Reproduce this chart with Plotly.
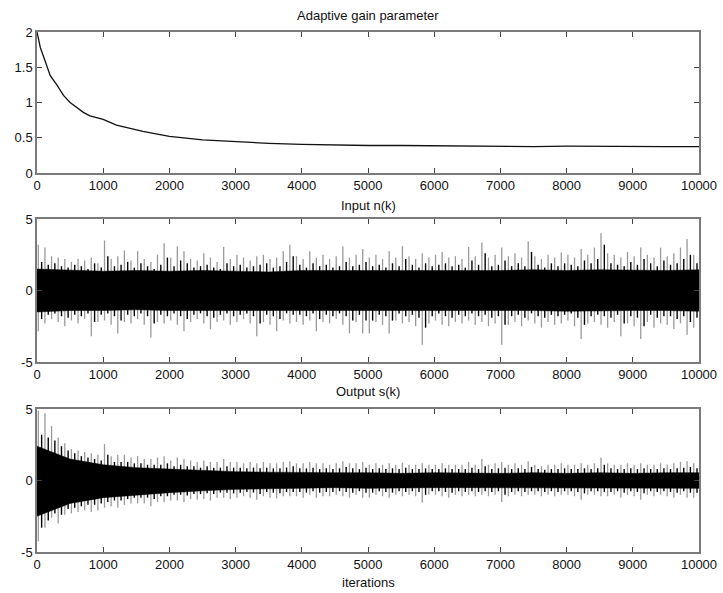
import plotly.graph_objects as go

# ---------------- data ----------------
gain_k = [0, 50, 100, 200, 300, 400, 500, 600, 700, 800, 900, 1000, 1200, 1400, 1600, 1800,
          2000, 2500, 3000, 3500, 4000, 4500, 5000, 5500, 6000, 6500, 7000, 7500, 8000, 8500,
          9000, 9500, 10000]
gain_val = [2.0, 1.78, 1.65, 1.38, 1.25, 1.1, 1.0, 0.93, 0.86, 0.81, 0.79, 0.76, 0.68, 0.63,
            0.59, 0.555, 0.52, 0.47, 0.44, 0.42, 0.405, 0.395, 0.39, 0.39, 0.385, 0.39, 0.385,
            0.375, 0.38, 0.375, 0.375, 0.375, 0.375]

# bins of 100 iterations (bin start)
bin_k = list(range(0, 10000, 100))

# Input n(k): extreme (grey) and black excursions per 100-iteration bin
input_hi = [3.2, 3.0, 2.4, 2.3, 2.2, 2.0, 2.2, 2.1, 2.3, 1.9,
            3.5, 2.2, 2.4, 2.8, 2.1, 2.75, 2.2, 2.0, 2.5, 3.3,
            2.3, 3.1, 2.75, 2.2, 2.1, 2.6, 2.3, 2.0, 3.05, 2.2,
            2.5, 2.3, 2.1, 2.4, 2.5, 2.2, 2.3, 2.75, 3.2, 2.4,
            2.2, 2.75, 2.3, 2.5, 2.2, 2.4, 3.1, 2.3, 2.5, 2.9,
            2.3, 2.5, 2.2, 2.75, 2.3, 3.1, 2.4, 2.2, 2.6, 2.3,
            2.5, 2.7, 2.3, 2.4, 2.2, 3.05, 2.4, 3.35, 2.3, 2.5,
            3.0, 2.4, 2.6, 2.3, 3.45, 2.4, 2.2, 2.5, 2.3, 2.65,
            2.5, 2.3, 2.9, 2.5, 3.0, 4.0, 2.6, 2.5, 2.3, 2.7,
            2.4, 3.0, 2.5, 2.3, 3.0, 2.4, 2.6, 3.0, 3.6, 2.5]
input_lo = [-2.85, -2.3, -2.0, -2.2, -2.5, -2.1, -2.3, -2.0, -3.2, -2.2,
            -2.1, -2.4, -3.0, -2.2, -2.3, -2.0, -2.4, -3.3, -2.2, -2.3,
            -2.1, -2.4, -2.85, -2.2, -2.0, -2.3, -2.7, -2.2, -2.1, -2.4,
            -2.2, -2.0, -2.3, -3.2, -2.2, -2.4, -2.85, -2.1, -2.3, -2.2,
            -2.4, -2.1, -2.85, -2.2, -2.3, -2.0, -2.4, -3.0, -2.2, -3.0,
            -3.0, -2.2, -2.4, -3.0, -2.1, -2.3, -2.2, -2.5, -3.8, -2.3,
            -2.1, -2.4, -2.5, -2.2, -2.3, -2.1, -2.4, -2.2, -2.5, -2.3,
            -3.8, -2.4, -2.2, -2.5, -2.1, -2.3, -2.6, -2.2, -2.4, -2.3,
            -2.1, -2.5, -3.4, -2.3, -2.2, -2.4, -2.6, -2.2, -3.2, -2.3,
            -2.5, -3.4, -2.2, -2.6, -2.3, -2.4, -2.7, -2.3, -3.1, -2.6]
input_core_hi = [2.0, 1.8, 1.9, 1.7, 1.6, 1.8, 1.7, 1.5, 1.9, 1.6,
                 2.4, 1.7, 1.8, 2.0, 1.6, 1.9, 1.7, 1.5, 1.8, 2.3,
                 1.7, 2.1, 1.9, 1.6, 1.7, 1.8, 1.6, 1.5, 1.9, 1.7,
                 1.8, 1.6, 1.7, 1.8, 1.9, 1.6, 1.7, 2.0, 2.4, 1.8,
                 1.6, 1.9, 1.7, 1.8, 1.6, 1.7, 2.0, 1.7, 1.8, 2.0,
                 1.7, 1.8, 1.6, 1.9, 1.7, 2.2, 1.8, 1.6, 1.9, 1.7,
                 1.8, 1.9, 1.7, 1.8, 1.6, 2.1, 1.8, 2.6, 1.7, 1.8,
                 2.1, 1.7, 1.9, 1.7, 2.7, 1.8, 1.6, 1.9, 1.7, 1.9,
                 1.8, 1.7, 2.1, 1.9, 2.2, 3.2, 1.9, 1.8, 1.7, 2.0,
                 1.8, 2.2, 1.9, 1.7, 2.1, 1.8, 1.9, 2.2, 2.5, 1.9]
input_core_lo = [-2.0, -1.7, -1.6, -1.8, -1.9, -1.7, -1.8, -1.6, -2.2, -1.7,
                 -1.6, -1.8, -2.1, -1.7, -1.8, -1.6, -1.8, -2.3, -1.7, -1.8,
                 -1.6, -1.8, -2.0, -1.7, -1.6, -1.8, -1.9, -1.7, -1.6, -1.8,
                 -1.7, -1.6, -1.8, -2.3, -1.7, -1.8, -2.0, -1.6, -1.7, -1.7,
                 -1.8, -1.6, -2.0, -1.7, -1.8, -1.6, -1.8, -2.1, -1.7, -2.1,
                 -2.1, -1.7, -1.8, -2.1, -1.6, -1.8, -1.7, -1.9, -2.6, -1.8,
                 -1.6, -1.8, -1.9, -1.7, -1.8, -1.6, -1.8, -1.7, -1.9, -1.8,
                 -2.4, -1.8, -1.7, -1.9, -1.6, -1.8, -1.9, -1.7, -1.8, -1.7,
                 -1.6, -1.9, -2.4, -1.8, -1.7, -1.8, -1.9, -1.7, -2.3, -1.8,
                 -1.9, -2.5, -1.7, -1.9, -1.8, -1.8, -2.0, -1.8, -2.2, -1.9]

# solid (fully black) part of the band, read every 500 iterations
solid_k = list(range(0, 10001, 500))
input_solid_hi = [1.5, 1.4, 1.35, 1.4, 1.35, 1.4, 1.35, 1.3, 1.4, 1.4, 1.35,
                  1.4, 1.4, 1.35, 1.4, 1.45, 1.4, 1.45, 1.4, 1.4, 1.45]
input_solid_lo = [-1.5, -1.4, -1.4, -1.35, -1.4, -1.4, -1.35, -1.4, -1.4, -1.35, -1.4,
                  -1.4, -1.4, -1.35, -1.4, -1.4, -1.45, -1.4, -1.4, -1.4, -1.45]

# Output s(k)
output_hi = [4.9, 4.7, 3.8, 3.0, 2.6, 2.2, 2.1, 2.0, 1.9, 1.8,
             2.55, 1.7, 1.8, 1.8, 1.6, 1.7, 1.5, 1.5, 1.6, 1.7,
             1.4, 1.6, 1.5, 1.4, 1.3, 1.4, 1.3, 1.3, 1.5, 1.3,
             1.3, 1.2, 1.3, 1.2, 1.3, 1.2, 1.2, 1.3, 1.35, 1.2,
             1.2, 1.3, 1.2, 1.2, 1.1, 1.2, 1.35, 1.2, 1.2, 1.3,
             1.1, 1.2, 1.1, 1.2, 1.1, 1.25, 1.1, 1.1, 1.2, 1.1,
             1.1, 1.2, 1.1, 1.1, 1.1, 1.3, 1.1, 1.5, 1.1, 1.2,
             1.3, 1.1, 1.2, 1.1, 1.35, 1.1, 1.0, 1.1, 1.1, 1.2,
             1.1, 1.1, 1.2, 1.1, 1.2, 1.6, 1.2, 1.1, 1.1, 1.2,
             1.1, 1.2, 1.1, 1.1, 1.2, 1.1, 1.2, 1.3, 1.35, 1.2]
output_lo = [-4.25, -3.3, -2.6, -3.0, -2.4, -2.3, -2.2, -2.1, -2.2, -2.1,
             -1.9, -1.8, -1.9, -1.7, -1.6, -1.6, -1.6, -1.8, -1.5, -1.5,
             -1.4, -1.4, -1.5, -1.3, -1.35, -1.3, -1.4, -1.2, -1.2, -1.3,
             -1.2, -1.1, -1.2, -1.35, -1.1, -1.2, -1.25, -1.1, -1.1, -1.1,
             -1.2, -1.0, -1.2, -1.1, -1.1, -1.0, -1.1, -1.2, -1.0, -1.2,
             -1.2, -1.0, -1.1, -1.2, -1.0, -1.1, -1.0, -1.1, -1.55, -1.0,
             -1.0, -1.1, -1.2, -1.0, -1.1, -1.0, -1.1, -1.0, -1.1, -1.0,
             -1.5, -1.1, -1.0, -1.1, -1.0, -1.0, -1.1, -1.0, -1.1, -1.0,
             -1.0, -1.1, -1.35, -1.0, -1.0, -1.1, -1.1, -1.0, -1.2, -1.0,
             -1.1, -1.35, -1.0, -1.1, -1.0, -1.1, -1.2, -1.0, -1.2, -1.2]
output_core_hi = [3.2, 3.0, 2.8, 2.4, 2.1, 1.9, 1.7, 1.6, 1.5, 1.4,
                  1.8, 1.3, 1.3, 1.3, 1.2, 1.2, 1.1, 1.1, 1.1, 1.2,
                  1.0, 1.1, 1.0, 1.0, 0.9, 1.0, 0.9, 0.9, 1.0, 0.9,
                  0.9, 0.85, 0.9, 0.85, 0.9, 0.85, 0.85, 0.9, 1.0, 0.85,
                  0.85, 0.9, 0.8, 0.85, 0.8, 0.85, 0.95, 0.85, 0.8, 0.9,
                  0.8, 0.85, 0.8, 0.85, 0.8, 0.9, 0.8, 0.8, 0.85, 0.8,
                  0.8, 0.85, 0.8, 0.8, 0.8, 0.9, 0.8, 1.0, 0.8, 0.85,
                  0.9, 0.8, 0.85, 0.8, 0.95, 0.8, 0.75, 0.8, 0.8, 0.85,
                  0.8, 0.8, 0.85, 0.8, 0.85, 1.1, 0.85, 0.8, 0.8, 0.85,
                  0.8, 0.85, 0.8, 0.8, 0.85, 0.8, 0.85, 0.9, 0.95, 0.85]
output_core_lo = [-3.3, -2.8, -2.3, -2.4, -2.0, -1.9, -1.8, -1.7, -1.7, -1.6,
                  -1.5, -1.4, -1.4, -1.3, -1.2, -1.2, -1.2, -1.3, -1.1, -1.1,
                  -1.0, -1.0, -1.05, -0.95, -0.95, -0.9, -0.95, -0.85, -0.85, -0.9,
                  -0.85, -0.8, -0.85, -0.95, -0.8, -0.85, -0.9, -0.8, -0.8, -0.8,
                  -0.85, -0.75, -0.85, -0.8, -0.8, -0.75, -0.8, -0.85, -0.75, -0.85,
                  -0.85, -0.75, -0.8, -0.85, -0.75, -0.8, -0.75, -0.8, -1.0, -0.75,
                  -0.75, -0.8, -0.85, -0.75, -0.8, -0.75, -0.8, -0.75, -0.8, -0.75,
                  -1.0, -0.8, -0.75, -0.8, -0.75, -0.75, -0.8, -0.75, -0.8, -0.75,
                  -0.75, -0.8, -0.9, -0.75, -0.75, -0.8, -0.8, -0.75, -0.85, -0.75,
                  -0.8, -0.9, -0.75, -0.8, -0.75, -0.8, -0.85, -0.75, -0.85, -0.85]
output_solid_hi = [2.4, 1.5, 1.1, 0.9, 0.8, 0.7, 0.62, 0.58, 0.55, 0.55, 0.55,
                   0.5, 0.55, 0.5, 0.5, 0.55, 0.5, 0.55, 0.5, 0.55, 0.55]
output_solid_lo = [-2.5, -1.6, -1.2, -1.0, -0.85, -0.72, -0.62, -0.58, -0.55, -0.5, -0.55,
                   -0.5, -0.5, -0.5, -0.5, -0.5, -0.5, -0.5, -0.5, -0.5, -0.55]

x_ticks = list(range(0, 10001, 1000))
x_tick_text = [str(v) for v in x_ticks]
gain_ticks = [0, 0.5, 1, 1.5, 2]
gain_tick_text = ["0", "0.5", "1", "1.5", "2"]
signal_ticks = [-5, 0, 5]
signal_tick_text = ["-5", "0", "5"]

# ---------------- figure ----------------
W, H = 723, 593
FONT = "Liberation Sans, Arial, Helvetica, sans-serif"
GREY = "#9a9a9a"
AXIS = "#7a7a7a"


def spikes(ks, hi, lo, off):
    xs, ys = [], []
    for k, a, b in zip(ks, hi, lo):
        xs += [k + off, k + off, None]
        ys += [b, a, None]
    return xs, ys


fig = go.Figure()

fig.add_trace(go.Scatter(x=gain_k, y=gain_val, mode="lines",
                         line=dict(color="#111111", width=1.3),
                         xaxis="x", yaxis="y", showlegend=False))

for (hi, lo, chi, clo, shi, slo, xa, ya) in [
    (input_hi, input_lo, input_core_hi, input_core_lo, input_solid_hi, input_solid_lo,
     "x2", "y2"),
    (output_hi, output_lo, output_core_hi, output_core_lo, output_solid_hi, output_solid_lo,
     "x3", "y3"),
]:
    # grey extreme excursions (vertical spikes)
    gx, gy = spikes(bin_k, hi, lo, 20)
    fig.add_trace(go.Scatter(x=gx, y=gy, mode="lines",
                             line=dict(color=GREY, width=1.3),
                             xaxis=xa, yaxis=ya, showlegend=False))
    # solid black band
    fig.add_trace(go.Scatter(x=solid_k, y=slo, mode="lines",
                             line=dict(color="#000000", width=0.5),
                             xaxis=xa, yaxis=ya, showlegend=False))
    fig.add_trace(go.Scatter(x=solid_k, y=shi, mode="lines",
                             line=dict(color="#000000", width=0.5),
                             fill="tonexty", fillcolor="#000000",
                             xaxis=xa, yaxis=ya, showlegend=False))
    # black excursions (vertical spikes)
    bx, by = spikes(bin_k, chi, clo, 70)
    fig.add_trace(go.Scatter(x=bx, y=by, mode="lines",
                             line=dict(color="#000000", width=1.4),
                             xaxis=xa, yaxis=ya, showlegend=False))

xd = [37 / W, 699 / W]


def ydom(top_px, bot_px):
    return [(H - bot_px) / H, (H - top_px) / H]


common_axis = dict(showline=True, linecolor=AXIS, linewidth=1.5, mirror="ticks",
                   ticks="inside", ticklen=5, tickcolor="#444444", tickwidth=1,
                   showgrid=False, zeroline=False, automargin=False,
                   tickfont=dict(family=FONT, size=13, color="#111111"))

fig.update_layout(
    width=W, height=H,
    margin=dict(l=0, r=0, t=0, b=0, autoexpand=False),
    paper_bgcolor="white", plot_bgcolor="white",
    showlegend=False,
    font=dict(family=FONT, size=13, color="#111111"),
)

fig.update_layout(
    xaxis=dict(domain=xd, range=[0, 10000], tickvals=x_ticks, ticktext=x_tick_text,
               anchor="y", **common_axis),
    yaxis=dict(domain=ydom(32, 173), range=[0, 2], tickvals=gain_ticks,
               ticktext=gain_tick_text, anchor="x", **common_axis),
    xaxis2=dict(domain=xd, range=[0, 10000], tickvals=x_ticks, ticktext=x_tick_text,
                anchor="y2", **common_axis),
    yaxis2=dict(domain=ydom(219, 362), range=[-5, 5], tickvals=signal_ticks,
                ticktext=signal_tick_text, anchor="x2", **common_axis),
    xaxis3=dict(domain=xd, range=[0, 10000], tickvals=x_ticks, ticktext=x_tick_text,
                anchor="y3", **common_axis),
    yaxis3=dict(domain=ydom(409, 552), range=[-5, 5], tickvals=signal_ticks,
                ticktext=signal_tick_text, anchor="x3", **common_axis),
)

titles = [("Adaptive gain parameter", 15), ("Input n(k)", 205), ("Output s(k)", 392),
          ("iterations", 582)]
for text, ypx in titles:
    fig.add_annotation(text=text, x=368 / W, y=(H - ypx) / H, xref="paper", yref="paper",
                       showarrow=False, xanchor="center", yanchor="middle",
                       font=dict(family=FONT, size=13, color="#111111"))

fig.write_html("out.html",
               config={"displayModeBar": False},
               post_script="document.body.style.margin='0';"
                           "document.body.style.overflow='hidden';")
